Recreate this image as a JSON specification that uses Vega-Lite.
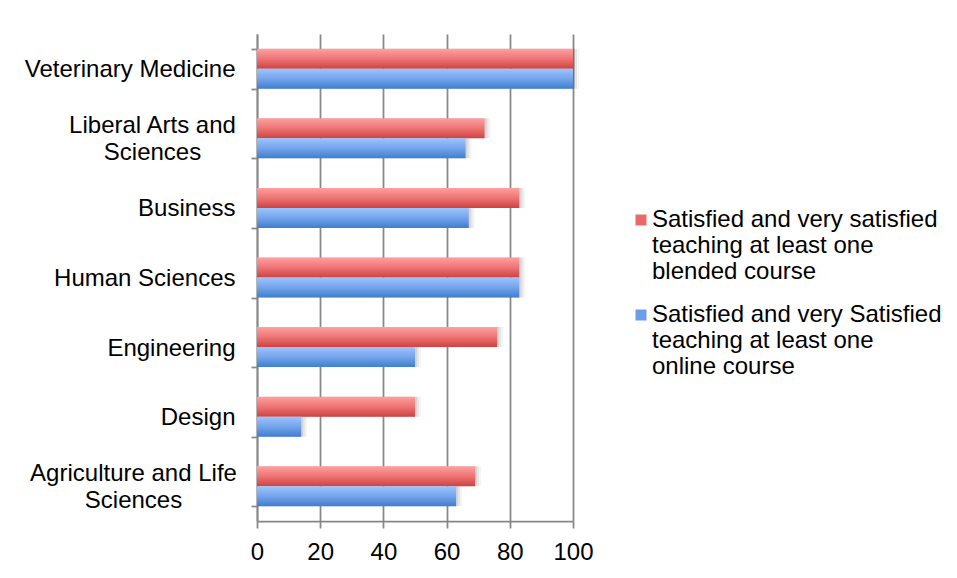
{
  "$schema": "https://vega.github.io/schema/vega-lite/v6.json",
  "width": 316,
  "height": 487,
  "autosize": {"type": "none"},
  "padding": {"left": 257, "top": 34, "right": 384, "bottom": 57},
  "background": "white",
  "config": {
    "font": "Liberation Sans",
    "view": {"stroke": null},
    "axis": {"labelColor": "#000000", "labelFontSize": 24, "titleFontSize": 0}
  },
  "data": {
    "values": [
      {"college": "Veterinary Medicine", "series": "blended", "value": 100},
      {"college": "Veterinary Medicine", "series": "online", "value": 100},
      {"college": "Liberal Arts and Sciences", "series": "blended", "value": 72},
      {"college": "Liberal Arts and Sciences", "series": "online", "value": 66},
      {"college": "Business", "series": "blended", "value": 83},
      {"college": "Business", "series": "online", "value": 67},
      {"college": "Human Sciences", "series": "blended", "value": 83},
      {"college": "Human Sciences", "series": "online", "value": 83},
      {"college": "Engineering", "series": "blended", "value": 76},
      {"college": "Engineering", "series": "online", "value": 50},
      {"college": "Design", "series": "blended", "value": 50},
      {"college": "Design", "series": "online", "value": 14},
      {"college": "Agriculture and Life Sciences", "series": "blended", "value": 69},
      {"college": "Agriculture and Life Sciences", "series": "online", "value": 63}
    ]
  },
  "encoding": {
    "y": {
      "field": "college",
      "type": "nominal",
      "sort": ["Veterinary Medicine", "Liberal Arts and Sciences", "Business", "Human Sciences", "Engineering", "Design", "Agriculture and Life Sciences"],
      "scale": {"paddingInner": 0.425, "paddingOuter": 0.2125},
      "axis": {
        "title": null,
        "grid": false,
        "tickBand": "extent",
        "tickSize": 6,
        "tickColor": "#878787",
        "tickWidth": 1.75,
        "domainColor": "#878787",
        "domainWidth": 1.75,
        "labelLimit": 400,
        "labelLineHeight": 27.5,
        "labelPadding": {
          "condition": [
            {"test": "datum.value == 'Liberal Arts and Sciences'", "value": 99},
            {"test": "datum.value == 'Agriculture and Life Sciences'", "value": 118}
          ],
          "value": 16
        },
        "labelOffset": {"condition": {"test": "datum.value == 'Liberal Arts and Sciences' || datum.value == 'Agriculture and Life Sciences'", "value": -13}, "value": 1},
        "labelAlign": {"condition": {"test": "datum.value == 'Liberal Arts and Sciences' || datum.value == 'Agriculture and Life Sciences'", "value": "center"}, "value": "right"},
        "labelExpr": "datum.value == 'Liberal Arts and Sciences' ? ['Liberal Arts and', 'Sciences'] : datum.value == 'Agriculture and Life Sciences' ? ['Agriculture and Life', 'Sciences'] : datum.label"
      }
    },
    "yOffset": {"field": "series", "sort": ["blended", "online"]},
    "x": {
      "field": "value",
      "type": "quantitative",
      "scale": {"domain": [0, 100], "nice": false},
      "axis": {
        "title": null,
        "values": [0, 20, 40, 60, 80, 100],
        "grid": true,
        "gridColor": "#878787",
        "gridWidth": 1.75,
        "tickSize": 7,
        "tickColor": "#878787",
        "tickWidth": 1.75,
        "domainColor": "#878787",
        "domainWidth": 1.75,
        "labelPadding": 12,
        "labelFlush": false
      }
    }
  },
  "layer": [
    {
      "mark": {"type": "bar", "color": "#000000", "opacity": 0.04, "xOffset": 6, "yOffset": 7}
    },
    {
      "mark": {"type": "bar", "color": "#000000", "opacity": 0.06, "xOffset": 4, "yOffset": 4.5}
    },
    {
      "mark": {"type": "bar", "color": "#000000", "opacity": 0.07, "xOffset": 2, "yOffset": 2.5}
    },
    {
      "mark": {"type": "bar", "opacity": 0},
      "encoding": {
        "color": {
          "field": "series",
          "type": "nominal",
          "scale": {"domain": ["blended", "online"], "range": ["#e86a6a", "#6d9de6"]},
          "legend": {
            "title": null,
            "orient": "none",
            "legendX": 372,
            "legendY": 174,
            "symbolType": "square",
            "symbolSize": 121,
            "symbolStrokeWidth": 0,
            "symbolOpacity": 1,
            "labelFontSize": 24,
            "labelLineHeight": 27.5,
            "labelColor": "#000000",
            "labelLimit": 400,
            "labelOffset": -1,
            "rowPadding": 19,
            "labelExpr": "datum.value == 'blended' ? ['Satisfied and very satisfied', 'teaching at least one', 'blended course'] : ['Satisfied and very Satisfied', 'teaching at least one', 'online course']"
          }
        }
      }
    },
    {
      "mark": {"type": "bar"},
      "encoding": {
        "color": {
          "condition": {
            "test": "datum.series == 'blended'",
            "value": {"gradient": "linear", "x1": 0, "y1": 0, "x2": 0, "y2": 1, "stops": [{"offset": 0, "color": "#ffa0a0"}, {"offset": 0.5, "color": "#ee7474"}, {"offset": 1, "color": "#cf4242"}]}
          },
          "value": {"gradient": "linear", "x1": 0, "y1": 0, "x2": 0, "y2": 1, "stops": [{"offset": 0, "color": "#9cc4ff"}, {"offset": 0.5, "color": "#74a4ea"}, {"offset": 1, "color": "#3f7ecf"}]}
        }
      }
    }
  ]
}
